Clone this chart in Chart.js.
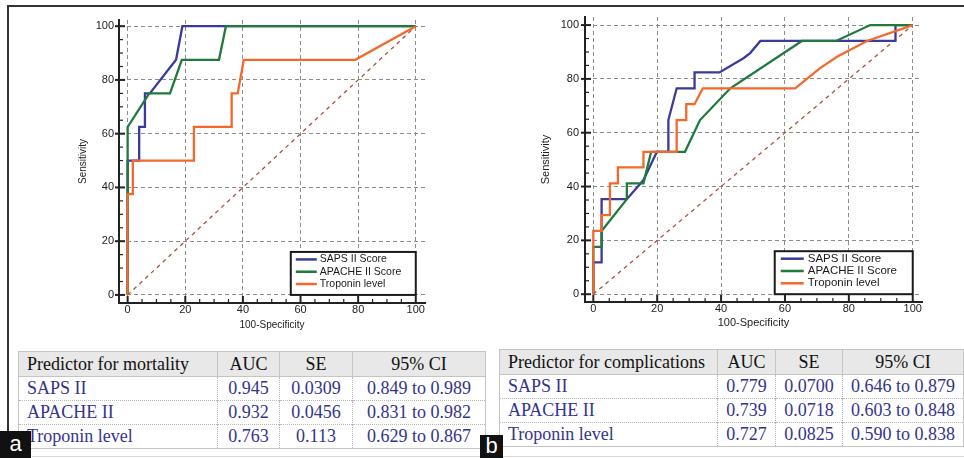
<!DOCTYPE html>
<html>
<head>
<meta charset="utf-8">
<script src="https://cdn.jsdelivr.net/npm/chart.js@4.4.0/dist/chart.umd.min.js"></script>
<style>
html,body{margin:0;padding:0;background:#fff;}
body{width:964px;height:458px;position:relative;overflow:hidden;}
#frame{position:absolute;left:7px;top:5px;width:980px;height:426px;border-top:2px solid #333;border-left:2px solid #333;}
#bline{position:absolute;left:32px;top:456px;width:940px;height:0;border-top:1px solid #d8d8d8;}
canvas{position:absolute;top:0;}
#ca{left:0;}
#cb{left:480px;}
table.t{position:absolute;border-collapse:collapse;table-layout:fixed;font-family:"Liberation Serif","Times New Roman",serif;font-size:18px;border:1px solid #c4c4c4;}
table.t th{background:#e8e8e8;color:#111;font-weight:normal;border:1px solid #c4c4c4;padding:0 8px;height:24px;line-height:24px;text-align:center;white-space:nowrap;}
table.t td{color:#34348c;border-top:1px dotted #b8b8b8;border-left:1px dotted #b8b8b8;padding:0 4px;height:23px;line-height:23px;text-align:center;white-space:nowrap;}
table.t th:first-child{text-align:left;}
table.t td:first-child{text-align:left;padding-left:8px;border-left:1px solid #c4c4c4;}
.lab{position:absolute;background:#111;color:#fff;font-family:"Liberation Sans",Arial,sans-serif;font-size:22px;line-height:26px;text-align:center;}
</style>
</head>
<body>
<div id="frame"></div>
<div id="bline"></div>
<canvas id="ca" width="480" height="340"></canvas>
<canvas id="cb" width="484" height="340"></canvas>
<table class="t" id="ta" style="left:18px;top:351px;width:467px;"></table>
<table class="t" id="tb" style="left:499px;top:349px;width:464px;"></table>
<div class="lab" style="left:0;top:431px;width:31px;height:27px;">a</div>
<div class="lab" style="left:480px;top:435px;width:23px;height:23px;line-height:22px;">b</div>
<script>
// ---------- data ----------
const seriesNames = ["SAPS II Score", "APACHE II Score", "Troponin level"];
const tickValues = [0, 20, 40, 60, 80, 100];
const diagX = [0, 100];
const diagY = [0, 100];

// Panel a: mortality
const mortSapsX = [0, 0, 4, 4, 6, 6, 7.7, 16.8, 19, 100];
const mortSapsY = [0, 50, 50, 62.5, 62.5, 75, 75, 87.5, 100, 100];
const mortApacheX = [0, 0, 7.5, 14.7, 18.8, 31.7, 34.1, 100];
const mortApacheY = [0, 62.5, 75, 75, 87.5, 87.5, 100, 100];
const mortTropX = [0, 0, 1.8, 1.8, 23, 23, 36.1, 36.1, 38.2, 40.3, 79, 100];
const mortTropY = [0, 37.5, 37.5, 50, 50, 62.5, 62.5, 75, 75, 87.5, 87.5, 100];

// Panel b: complications
const compSapsX = [0, 0, 2.6, 2.6, 10.5, 15.7, 19.9, 23.5, 23.5, 26.1, 31.7, 31.7, 39.5, 47, 49.1, 52.3, 94.6, 94.6, 100];
const compSapsY = [0, 11.8, 11.8, 35.3, 35.3, 42.4, 52.9, 52.9, 64.7, 76.5, 76.5, 82.4, 82.4, 87.7, 89.6, 94.1, 94.1, 100, 100];
const compApacheX = [0, 0, 2.6, 2.6, 10.5, 10.5, 15.7, 18.1, 28.7, 33.4, 42.9, 65.3, 76, 86.7, 100];
const compApacheY = [0, 17.6, 17.6, 23.5, 35.3, 41.2, 41.2, 52.9, 52.9, 64.7, 76.5, 94.1, 94.1, 100, 100];
const compTropX = [0, 0, 2.6, 2.6, 5.2, 5.2, 7.7, 7.7, 15.7, 15.7, 26.1, 26.1, 29.1, 29.1, 31.7, 34.3, 63.2, 71, 76.3, 85.7, 100];
const compTropY = [0, 23.5, 23.5, 29.4, 29.4, 41.2, 41.2, 47.1, 47.1, 52.9, 52.9, 64.7, 64.7, 70.6, 70.6, 76.5, 76.5, 84, 88.2, 94.1, 100];

// Tables
const tableAHeader = ["Predictor for mortality", "AUC", "SE", "95% CI"];
const tableBHeader = ["Predictor for complications", "AUC", "SE", "95% CI"];
const predictors = ["SAPS II", "APACHE II", "Troponin level"];
const mortAUC = ["0.945", "0.932", "0.763"];
const mortSE = ["0.0309", "0.0456", "0.113"];
const mortCI = ["0.849 to 0.989", "0.831 to 0.982", "0.629 to 0.867"];
const compAUC = ["0.779", "0.739", "0.727"];
const compSE = ["0.0700", "0.0718", "0.0825"];
const compCI = ["0.646 to 0.879", "0.603 to 0.848", "0.590 to 0.838"];

// ---------- helpers ----------
const colors = ["#3a3a9c", "#1f7a3c", "#f4682c"];
const pts = (xs, ys) => xs.map((x, i) => ({x, y: ys[i]}));

function buildTable(id, header, cols, widths) {
  const t = document.getElementById(id);
  const cg = document.createElement('colgroup');
  widths.forEach(w => { const c = document.createElement('col'); c.style.width = w + 'px'; cg.appendChild(c); });
  t.appendChild(cg);
  const hr = document.createElement('tr');
  header.forEach(h => { const th = document.createElement('th'); th.textContent = h; hr.appendChild(th); });
  t.appendChild(hr);
  for (let r = 0; r < cols[0].length; r++) {
    const tr = document.createElement('tr');
    cols.forEach(c => { const td = document.createElement('td'); td.textContent = c[r]; tr.appendChild(td); });
    t.appendChild(tr);
  }
}
buildTable('ta', tableAHeader, [predictors, mortAUC, mortSE, mortCI], [199, 62, 73, 133]);
buildTable('tb', tableBHeader, [predictors, compAUC, compSE, compCI], [218, 58, 67, 121]);

const boxLegend = {
  id: 'boxLegend',
  afterDatasetsDraw(chart, args, o) {
    const {ctx, scales: {x, y}} = chart;
    const right = x.getPixelForValue(100), bottom = y.getPixelForValue(0);
    const left = right - o.width, top = bottom - o.height;
    ctx.save();
    ctx.fillStyle = '#fff';
    ctx.fillRect(left, top, o.width, o.height);
    ctx.lineWidth = 2;
    ctx.strokeStyle = '#1a1a1a';
    ctx.strokeRect(left, top, o.width, o.height);
    ctx.font = o.fontSize + 'px "Liberation Sans", Arial, sans-serif';
    ctx.textBaseline = 'middle';
    ctx.textAlign = 'left';
    chart.data.datasets.filter(d => d.inLegend).forEach((d, i) => {
      const cy = top + 7.5 + i * 12.3;
      ctx.strokeStyle = d.borderColor;
      ctx.lineWidth = 2.5;
      ctx.beginPath();
      ctx.moveTo(left + o.swX0, cy);
      ctx.lineTo(left + o.swX1, cy);
      ctx.stroke();
      ctx.fillStyle = '#1a1a1a';
      ctx.fillText(d.label, left + o.textX, cy);
    });
    ctx.restore();
  }
};

const axisTicks = {
  id: 'axisTicks',
  afterDraw(chart) {
    const {ctx, chartArea: ca, scales: {x, y}} = chart;
    ctx.save();
    ctx.strokeStyle = '#222';
    for (let v = 0; v <= 100; v += 5) {
      const major = v % 20 === 0;
      ctx.lineWidth = major ? 2 : 1.2;
      const px = x.getPixelForValue(v);
      ctx.beginPath();
      ctx.moveTo(px, ca.bottom);
      ctx.lineTo(px, ca.bottom - (major ? 7 : 4));
      ctx.stroke();
      const py = y.getPixelForValue(v);
      ctx.beginPath();
      if (major) { ctx.moveTo(ca.left - 4, py); ctx.lineTo(ca.left + 6, py); }
      else { ctx.moveTo(ca.left, py); ctx.lineTo(ca.left + 4, py); }
      ctx.stroke();
    }
    ctx.restore();
  }
};

function makeChart(id, series, cfg) {
  const datasets = series.map((s, i) => ({
    label: seriesNames[i],
    data: pts(s[0], s[1]),
    borderColor: colors[i],
    borderWidth: 2.3,
    showLine: true,
    pointRadius: 0,
    tension: 0,
    inLegend: true,
    order: 2 - i
  }));
  datasets.push({
    label: 'ref',
    data: pts(diagX, diagY),
    borderColor: '#b0503e',
    borderWidth: 1.3,
    borderDash: [4, 4],
    showLine: true,
    pointRadius: 0,
    inLegend: false,
    order: 5
  });
  const tickFont = {family: '"Liberation Sans", Arial, sans-serif', size: 11};
  const grid = {color: '#8c8c8c', lineWidth: 1, drawTicks: false};
  return new Chart(document.getElementById(id), {
    type: 'scatter',
    data: {datasets},
    plugins: [boxLegend, axisTicks],
    options: {
      responsive: false,
      animation: false,
      events: [],
      layout: {padding: cfg.pad},
      plugins: {
        legend: {display: false},
        tooltip: {enabled: false},
        boxLegend: cfg.legend
      },
      scales: {
        x: {
          type: 'linear', min: cfg.xr[0], max: cfg.xr[1], bounds: 'data',
          afterBuildTicks: s => { s.ticks = tickValues.map(v => ({value: v})); },
          afterFit: s => { s.height = 28; },
          grid, border: {display: true, color: '#222', width: 2, dash: [4, 3]},
          ticks: {font: tickFont, color: '#222', padding: 0, maxRotation: 0},
          title: {display: true, text: '100-Specificity', color: '#222',
                  font: {family: '"Liberation Sans", Arial, sans-serif', size: cfg.titleSize},
                  padding: {top: 0, bottom: 0}}
        },
        y: {
          type: 'linear', min: cfg.yr[0], max: cfg.yr[1], bounds: 'data',
          afterBuildTicks: s => { s.ticks = tickValues.map(v => ({value: v})); },
          afterFit: s => { s.width = cfg.yw; },
          grid, border: {display: true, color: '#222', width: 2, dash: [4, 3]},
          ticks: {font: tickFont, color: '#222', padding: cfg.ypad},
          title: {display: true, text: 'Sensitivity', color: '#222',
                  font: {family: '"Liberation Sans", Arial, sans-serif', size: cfg.titleSize},
                  padding: {top: 7, bottom: 0}}
        }
      }
    }
  });
}

makeChart('ca', [[mortSapsX, mortSapsY], [mortApacheX, mortApacheY], [mortTropX, mortTropY]], {
  pad: {left: 70, right: 55, top: 20, bottom: 9}, yw: 49, ypad: 5,
  xr: [-3, 103.2], yr: [-3, 102.3], titleSize: 10,
  legend: {width: 125, height: 43, fontSize: 10.5, swX0: 5, swX1: 26, textX: 29}
});
makeChart('cb', [[compSapsX, compSapsY], [compApacheX, compApacheY], [compTropX, compTropY]], {
  pad: {left: 52, right: 42, top: 17, bottom: 10}, yw: 53, ypad: 6,
  xr: [-2.6, 102.9], yr: [-2.9, 103], titleSize: 11,
  legend: {width: 138, height: 43, fontSize: 11.5, swX0: 6, swX1: 29, textX: 33}
});
</script>
</body>
</html>
